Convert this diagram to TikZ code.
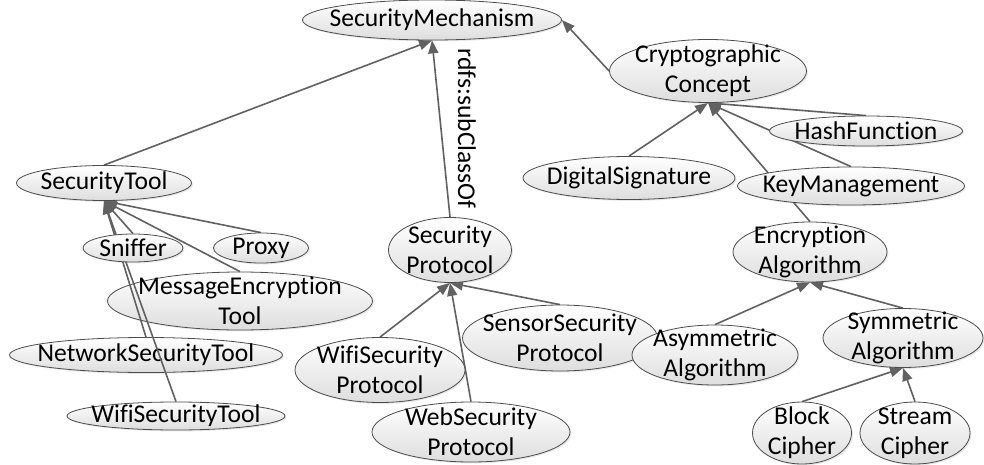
\documentclass[tikz,border=0pt]{standalone}
\usepackage{fontspec}
\setmainfont{Carlito}[Ligatures=NoCommon]
\usetikzlibrary{shapes.geometric}
\usetikzlibrary{arrows.meta}
\usetikzlibrary{shadows}
\pgfdeclarelayer{background}
\pgfdeclarelayer{edges}
\pgfsetlayers{background,edges,main}

\begin{document}
\begin{tikzpicture}[
    x=0.5pt, y=-0.5pt,
    every node/.style={font=\fontsize{12.8}{15}\selectfont, align=center},
    cls/.style={ellipse, draw=black!70, line width=0.4pt, top color=white, bottom color=black!13, inner sep=-40pt,
        drop shadow={opacity=0.18, shadow xshift=0.7pt, shadow yshift=-0.7pt}},
    esize/.style 2 args={minimum width=#1*0.5pt, minimum height=#2*0.5pt},
    rel/.style={draw=black!62, line width=0.8pt, -{Triangle[length=6.5pt,width=5pt]}}
]
\useasboundingbox (0,0) rectangle (984,465);
% Classes
\node[cls, esize={259}{40}] (sm) at (432,20) {SecurityMechanism};
\node[cls, esize={197}{63}] (cc) at (708,71) {Cryptographic\\Concept};
\node[cls, esize={193}{30}] (hf) at (866,131) {HashFunction};
\node[cls, esize={212}{43}] (ds) at (629,178) {DigitalSignature};
\node[cls, esize={227}{38}] (km) at (851,186) {KeyManagement};
\node[cls, esize={154}{60}] (ea) at (810,252) {Encryption\\Algorithm};
\node[cls, esize={195}{66}] (ssp) at (560,338) {SensorSecurity\\Protocol};
\node[cls, esize={166}{60}] (aa) at (715,355) {Asymmetric\\Algorithm};
\node[cls, esize={160}{59}] (sa) at (903,338) {Symmetric\\Algorithm};
\node[cls, esize={99}{62}] (bc) at (802,433) {Block\\Cipher};
\node[cls, esize={110}{62}] (sc) at (915,433) {Stream\\Cipher};
\node[cls, esize={175}{35}] (st) at (104,183) {SecurityTool};
\node[cls, esize={100}{28}] (sn) at (133,248) {Sniffer};
\node[cls, esize={95}{30}] (px) at (261,248) {Proxy};
\node[cls, esize={123}{65}] (sp) at (450,250) {Security\\Protocol};
\node[cls, esize={170}{65}] (wsp) at (380,370) {WifiSecurity\\Protocol};
\node[cls, esize={198}{60}] (web) at (471,432) {WebSecurity\\Protocol};
\begin{pgfonlayer}{background}
\node[cls, esize={265}{58}] (met) at (240,301) {MessageEncryption\\Tool};
\node[cls, esize={273}{35}] (nst) at (146,355) {NetworkSecurityTool};
\node[cls, esize={218}{28}] (wst) at (176,416) {WifiSecurityTool};
\end{pgfonlayer}
% subClassOf edges
\begin{pgfonlayer}{edges}
\draw[rel] (st.north) -- (sm.south);
\draw[rel] (sp.north) -- node[rotate=-90, anchor=south, inner sep=8pt] (lbl) {rdfs:subClassOf} (sm.south);
\draw[rel] (cc.west) -- (sm.east);
\draw[rel] (ds.north) -- (cc.south);
\draw[rel] (ea.north) -- (cc.south);
\draw[rel] (km.north) -- (cc.south);
\draw[rel] (hf.north) -- (cc.south);
\draw[rel] (sn.north) -- (st.south);
\draw[rel] (px.north) -- (st.south);
\draw[rel] (met.north) -- (st.south);
\draw[rel] (nst.north) -- (st.south);
\draw[rel] (wst.north) -- (st.south);
\draw[rel] (wsp.north) -- (sp.south);
\draw[rel] (web.north) -- (sp.south);
\draw[rel] (ssp.north) -- (sp.south);
\draw[rel] (aa.north) -- (ea.south);
\draw[rel] (sa.north) -- (ea.south);
\draw[rel] (bc.north) -- (sa.south);
\draw[rel] (sc.north) -- (sa.south);
\end{pgfonlayer}
\end{tikzpicture}
\end{document}
